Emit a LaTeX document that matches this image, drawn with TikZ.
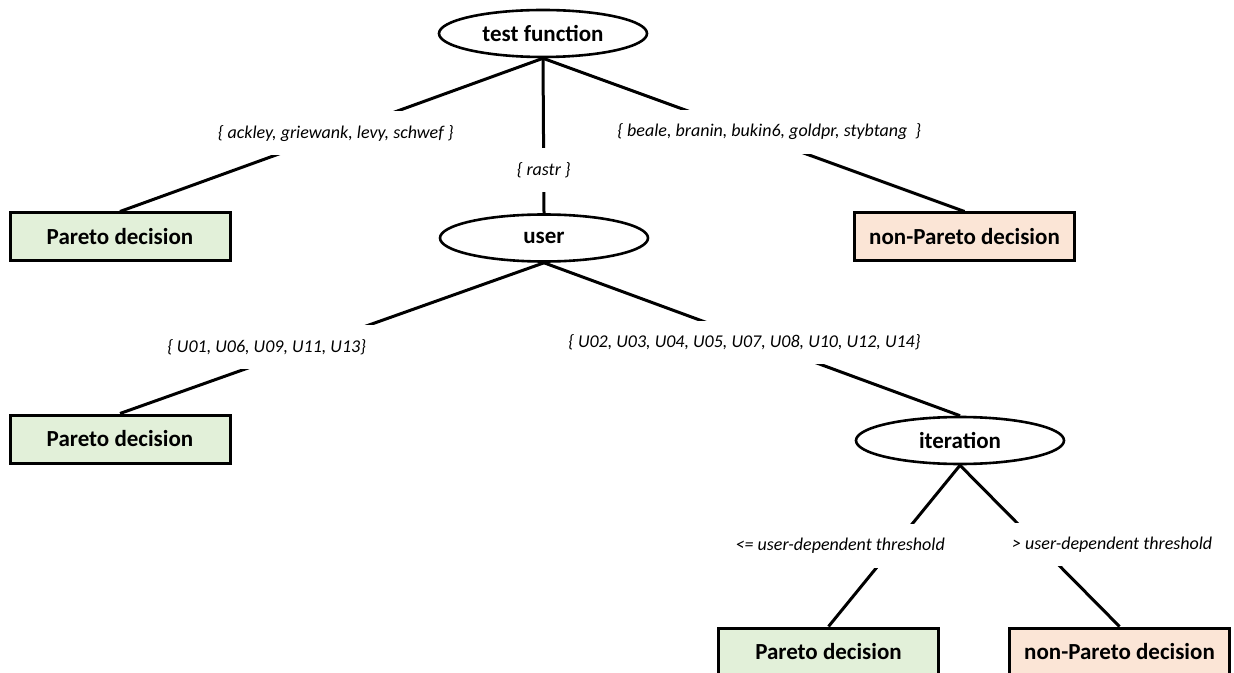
\documentclass[tikz,border=0pt]{standalone}
\usepackage{fontspec}
\setmainfont{Carlito}
\usetikzlibrary{shapes.geometric}

\definecolor{paretogreen}{HTML}{E2F0D9}
\definecolor{nonparetored}{HTML}{FBE5D6}

\tikzset{
  knot/.style={ellipse,draw,line width=1.3pt,inner sep=0pt,
    minimum width=104pt,minimum height=23.5pt,
    font=\fontsize{11.5}{13}\selectfont\bfseries},
  leaf/.style={rectangle,draw,line width=1.5pt,inner sep=0pt,
    minimum width=110pt,minimum height=24pt,
    font=\fontsize{11.5}{13}\selectfont\bfseries},
  pareto/.style={leaf,fill=paretogreen},
  nonpareto/.style={leaf,fill=nonparetored},
  branch/.style={line width=1.5pt},
  lbl/.style={fill=white,inner xsep=4pt,inner ysep=7pt,
    font=\fontsize{9}{11}\selectfont\itshape}
}

\begin{document}
\begin{tikzpicture}[x=0.5pt,y=-0.5pt]
			\clip (0,0) rectangle (1234,673);

			% Entscheidungsknoten
			\node[knot] (test) at (543,33.5) {test function};
			\node[knot] (user) at (544,238) {user};
			\node[knot] (iter) at (960,440.5) {iteration};

			% Blaetter
			\node[pareto] (paretoA) at (120,237) {Pareto decision};
			\node[nonpareto] (nonparetoA) at (964.5,237) {non-Pareto decision};
			\node[pareto] (paretoB) at (120,439) {Pareto decision};
			\node[pareto] (paretoC) at (828.5,652) {Pareto decision};
			\node[nonpareto] (nonparetoC) at (1119.5,652) {non-Pareto decision};

			% Kanten test function
			\draw[branch] (test.south) -- node[lbl,pos=.49] (setA) {\{ ackley, griewank, levy, schwef \}} (paretoA.north);
			\draw[branch] (test.south) -- node[lbl,pos=.72] (setB) {\{ rastr \}} (user.north);
			\draw[branch] (test.south) -- node[lbl,pos=.48,xshift=12pt] (setC) {\{ beale, branin, bukin6, goldpr, stybtang~~\}} (nonparetoA.north);

			% Kanten user
			\draw[branch] (user.south) -- node[lbl,pos=.56,xshift=-20pt] (usersA) {\{ U01, U06, U09, U11, U13\}} (paretoB.north);
			\draw[branch] (user.south) -- node[lbl,pos=.52,xshift=-8pt] (usersB) {\{ U02, U03, U04, U05, U07, U08, U10, U12, U14\}} (iter.north);

			% Kanten iteration
			\draw[branch] (iter.south) -- node[lbl,pos=.5,xshift=-27pt] (low) {<= user-dependent threshold} (paretoC.north);
			\draw[branch] (iter.south) -- node[lbl,pos=.49,xshift=37pt] (high) {> user-dependent threshold} (nonparetoC.north);

\end{tikzpicture}
\end{document}
